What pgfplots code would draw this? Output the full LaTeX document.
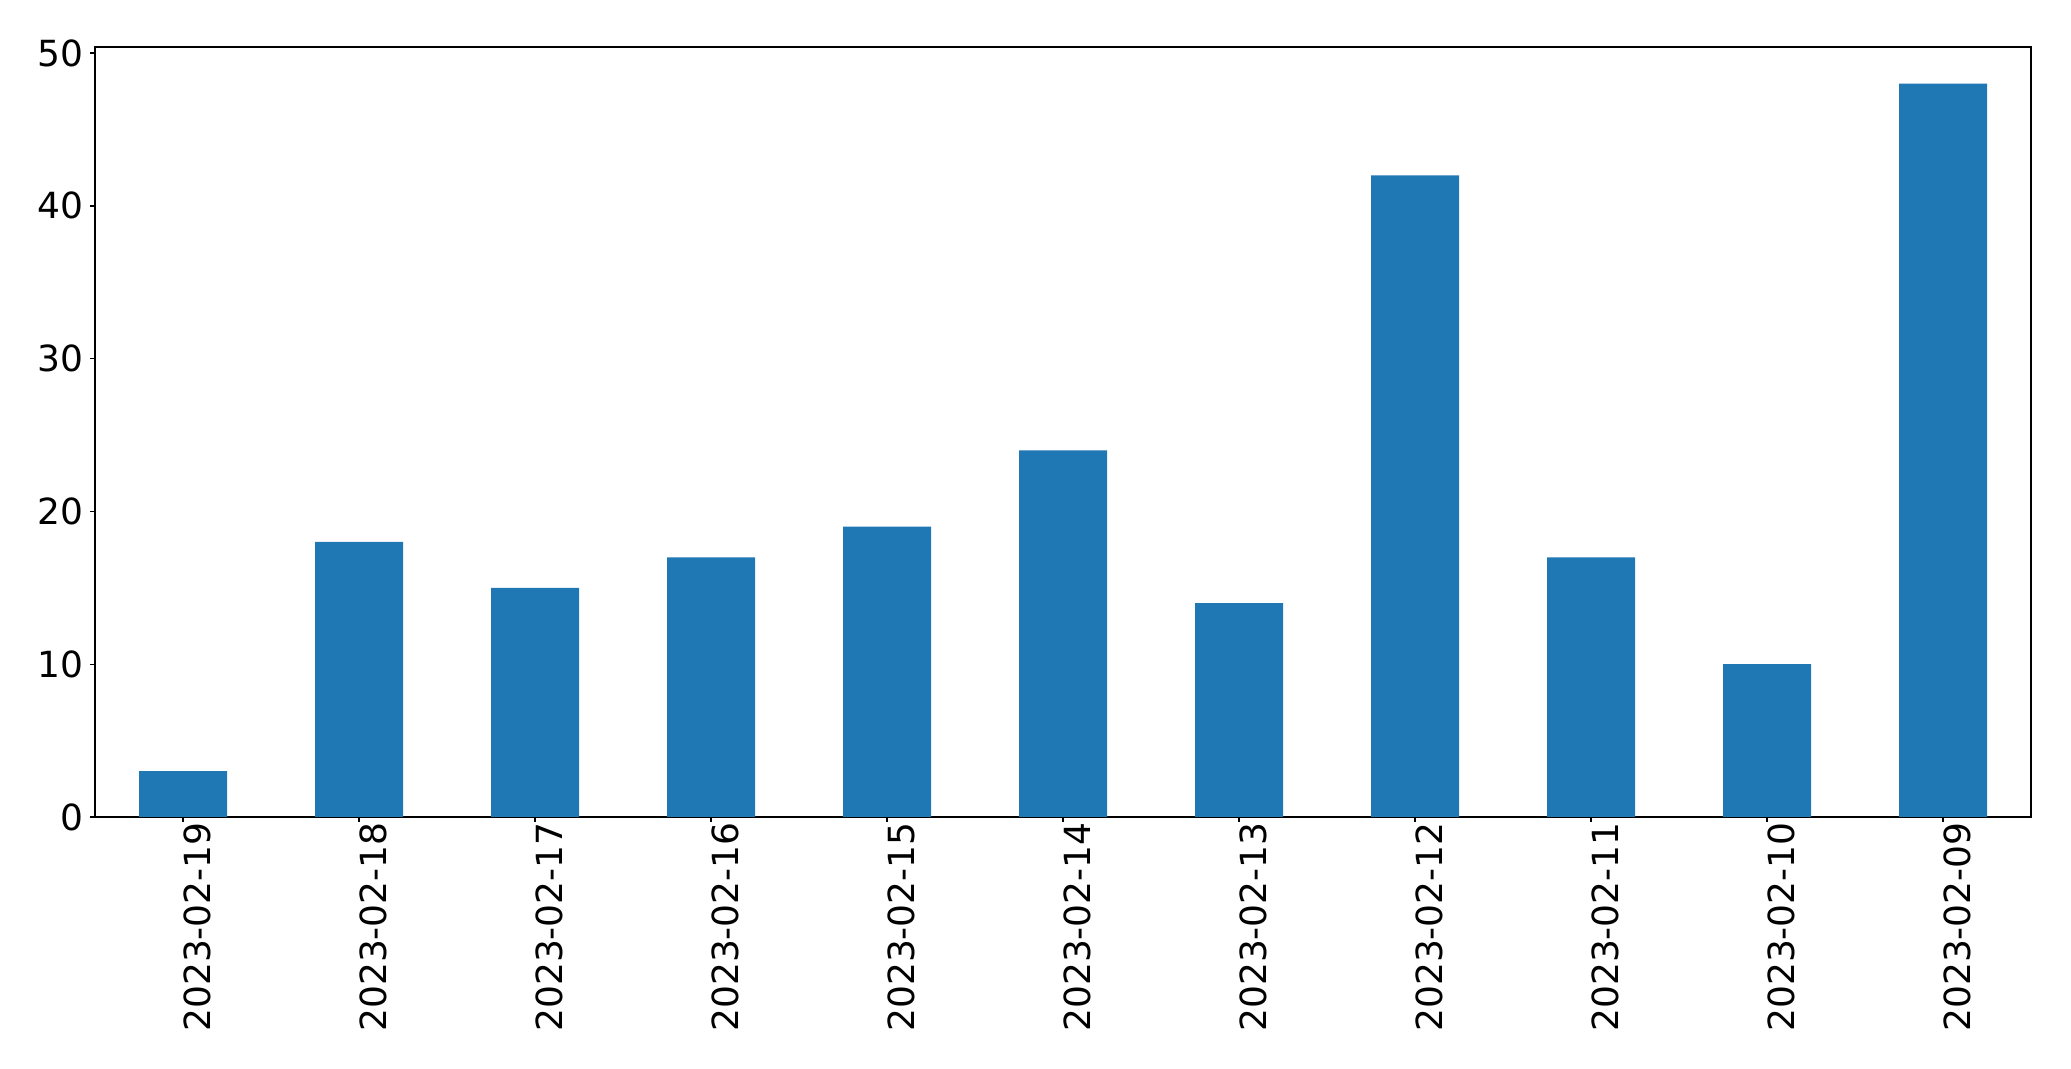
\documentclass[border=0pt]{standalone}
\usepackage{fontspec}
\setmainfont{DejaVu Sans}
\usepackage{pgfplots}
\pgfplotsset{compat=1.18}
\definecolor{barblue}{HTML}{1F77B4}
\begin{document}
\fontsize{18pt}{22pt}\selectfont
\begin{tikzpicture}
\begin{axis}[
  at={(0,0)}, anchor=south west,
  scale only axis,
  width=968pt, height=385pt,
  xmin=-0.5, xmax=10.5,
  ymin=0, ymax=50.4,
  xtick={0,1,2,3,4,5,6,7,8,9,10},
  xticklabels={2023-02-19,2023-02-18,2023-02-17,2023-02-16,2023-02-15,2023-02-14,2023-02-13,2023-02-12,2023-02-11,2023-02-10,2023-02-09},
  ytick={0,10,20,30,40,50},
  tick align=outside,
  xtick pos=bottom, ytick pos=left,
  major tick length=2.5pt,
  every tick/.style={line width=0.65pt, black},
  axis line style={line width=0.65pt},
  /pgf/number format/assume math mode=true,
  xticklabel style={rotate=90, anchor=east, inner sep=0pt, yshift=-7pt},
  yticklabel style={anchor=east, inner sep=0pt, xshift=-3pt},
  tick label style={font=\fontsize{18pt}{22pt}\selectfont},
]
\addplot[ybar, bar width=0.5, fill=barblue, draw=none] coordinates {
(0,3) (1,18) (2,15) (3,17) (4,19) (5,24) (6,14) (7,42) (8,17) (9,10) (10,48)
};
\end{axis}
\useasboundingbox (-47.5pt,-126pt) rectangle (988pt,408.5pt);
\end{tikzpicture}
\end{document}
